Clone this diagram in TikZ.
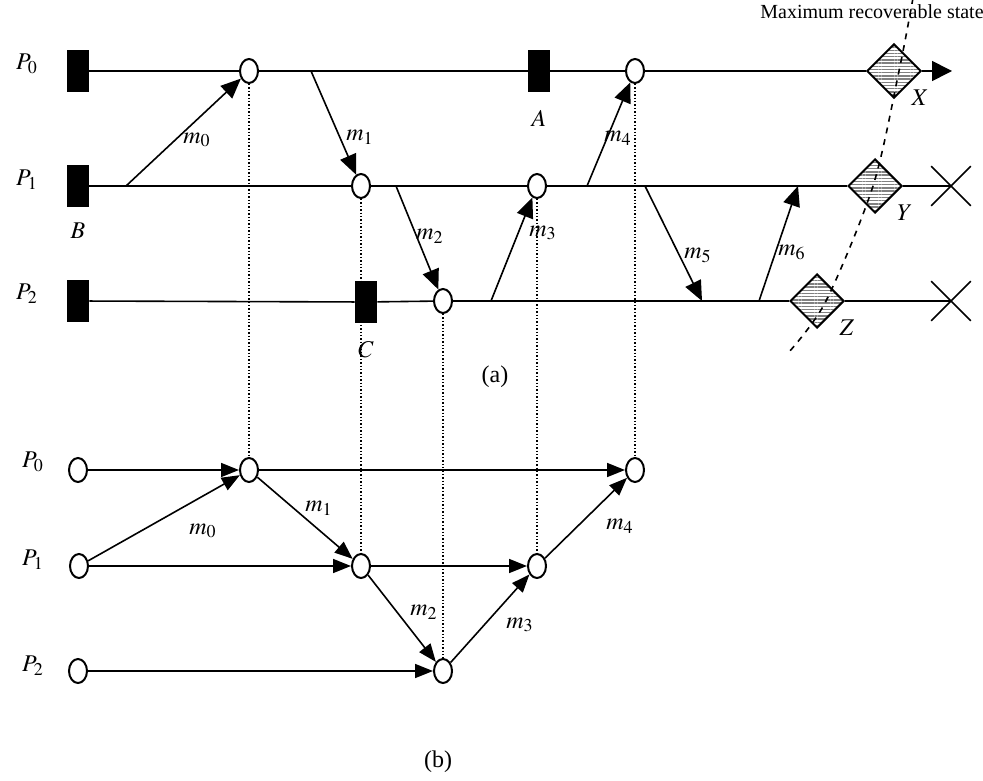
\documentclass[tikz,border=0pt]{standalone}
\usepackage{mathptmx}
\usepackage{fontspec}
\setmainfont{Liberation Serif}
\usetikzlibrary{arrows.meta,shapes.geometric,shapes.misc,patterns.meta}
\begin{document}
\begin{tikzpicture}[x=0.5pt,y=-0.5pt,line width=0.8pt,
  ckpt/.style={draw,fill=black,minimum width=10.5pt,minimum height=20pt,inner sep=0pt},
  evt/.style={draw,fill=white,ellipse,minimum width=9pt,minimum height=12pt,inner sep=0pt,line width=1pt},
  rstate/.style={draw,diamond,minimum width=27pt,minimum height=27pt,inner sep=0pt,line width=1pt,preaction={fill=white},pattern={Lines[distance=1.6pt,line width=0.7pt]},pattern color=gray},
  fail/.style={draw,cross out,minimum size=19pt,inner sep=0pt,line width=0.8pt},
  msg/.style={-{Triangle[length=10pt,width=8.5pt]}},
  dep/.style={-{Triangle[length=9pt,width=7pt]}},
  proj/.style={densely dotted,line width=0.7pt},
  lbl/.style={font=\fontsize{12}{14}\selectfont,inner sep=0pt}]
\useasboundingbox (0,0) rectangle (983,780);
% (a)
\node[lbl] (p0a) at (27,64) {$P_0$};
\node[lbl] (p1a) at (27,180) {$P_1$};
\node[lbl] (p2a) at (27,294) {$P_2$};
\node[ckpt] (r00) at (78,71) {};
\node[ckpt] (rB) at (78,186) {};
\node[ckpt] (r20) at (78,301) {};
\node[ckpt] (rA) at (539,71) {};
\node[ckpt] (rC) at (366,302) {};
\node[evt] (c01) at (249,71) {};
\node[evt] (c02) at (635,71) {};
\node[evt] (c11) at (361,186) {};
\node[evt] (c12) at (537,186) {};
\node[evt] (c21) at (443,301) {};
\node[rstate] (X) at (894,71) {};
\node[rstate] (Y) at (875,186) {};
\node[rstate] (Z) at (817,301) {};
\node[fail] (x1) at (951,186) {};
\node[fail] (x2) at (951,301) {};
\coordinate (t0) at (952,71);
\coordinate (m0s) at (126,186);
\coordinate (m1s) at (311,71);
\coordinate (m2s) at (396,186);
\coordinate (m3s) at (491,301);
\coordinate (m4s) at (587,186);
\coordinate (m5s) at (645,186);
\coordinate (m5e) at (702,301);
\coordinate (m6s) at (759,301);
\coordinate (m6e) at (798,186);
\draw (r00) -- (c01) -- (rA) -- (c02) -- (X);
\draw[-{Triangle[length=10pt,width=10pt]}] (X) -- (t0);
\draw (rB) -- (c11) -- (c12) -- (Y) -- (x1.center);
\draw (r20) -- (rC) -- (c21) -- (Z) -- (x2.center);
\draw[msg] (m0s) -- (c01);
\draw[msg] (m1s) -- (c11);
\draw[msg] (m2s) -- (c21);
\draw[msg] (m3s) -- (c12);
\draw[msg] (m4s) -- (c02);
\draw[msg] (m5s) -- (m5e);
\draw[msg] (m6s) -- (m6e);
\node[lbl] (lm0) at (197,140) {$m_0$};
\node[lbl] (lm1) at (360,137) {$m_1$};
\node[lbl] (lm2) at (430,236) {$m_2$};
\node[lbl] (lm3) at (543,233) {$m_3$};
\node[lbl] (lm4) at (618,138) {$m_4$};
\node[lbl] (lm5) at (698,255) {$m_5$};
\node[lbl] (lm6) at (792,252) {$m_6$};
\node[lbl] (lA) at (539,118) {$A$};
\node[lbl] (lB) at (78,231) {$B$};
\node[lbl] (lC) at (366,350) {$C$};
\node[lbl] (lX) at (920,98) {$X$};
\node[lbl] (lY) at (905,213) {$Y$};
\node[lbl] (lZ) at (847,328) {$Z$};
\draw[dashed] plot[smooth] coordinates {(913,-2) (899,71) (873,186) (826,301) (789,352)};
\node[font=\fontsize{10}{12}\selectfont,inner sep=0pt] (mrs) at (872,12) {Maximum recoverable state};
\node[lbl] (capa) at (495,377) {(a)};
% (b)
\node[lbl] (p0b) at (33,462) {$P_0$};
\node[lbl] (p1b) at (33,560) {$P_1$};
\node[lbl] (p2b) at (33,666) {$P_2$};
\node[evt] (b00) at (78,470) {};
\node[evt] (b01) at (249,470) {};
\node[evt] (b02) at (635,470) {};
\node[evt] (b10) at (79,566) {};
\node[evt] (b11) at (361,566) {};
\node[evt] (b12) at (537,566) {};
\node[evt] (b20) at (78,671) {};
\node[evt] (b21) at (443,671) {};
\draw[dep] (b00) -- (b01);
\draw[dep] (b01) -- (b02);
\draw[dep] (b10) -- (b11);
\draw[dep] (b11) -- (b12);
\draw[dep] (b20) -- (b21);
\draw[dep] (b10) -- (b01);
\draw[dep] (b01) -- (b11);
\draw[dep] (b11) -- (b21);
\draw[dep] (b21) -- (b12);
\draw[dep] (b12) -- (b02);
\node[lbl] (bm0) at (203,531) {$m_0$};
\node[lbl] (bm1) at (319,508) {$m_1$};
\node[lbl] (bm2) at (424,612) {$m_2$};
\node[lbl] (bm3) at (520,625) {$m_3$};
\node[lbl] (bm4) at (620,526) {$m_4$};
\node[lbl] (capb) at (438,762) {(b)};
\draw[proj] (c01.south) -- (b01.north);
\draw[proj] (c11.south) -- (b11.north);
\draw[proj] (c21.south) -- (b21.north);
\draw[proj] (c12.south) -- (b12.north);
\draw[proj] (c02.south) -- (b02.north);
\end{tikzpicture}
\end{document}
